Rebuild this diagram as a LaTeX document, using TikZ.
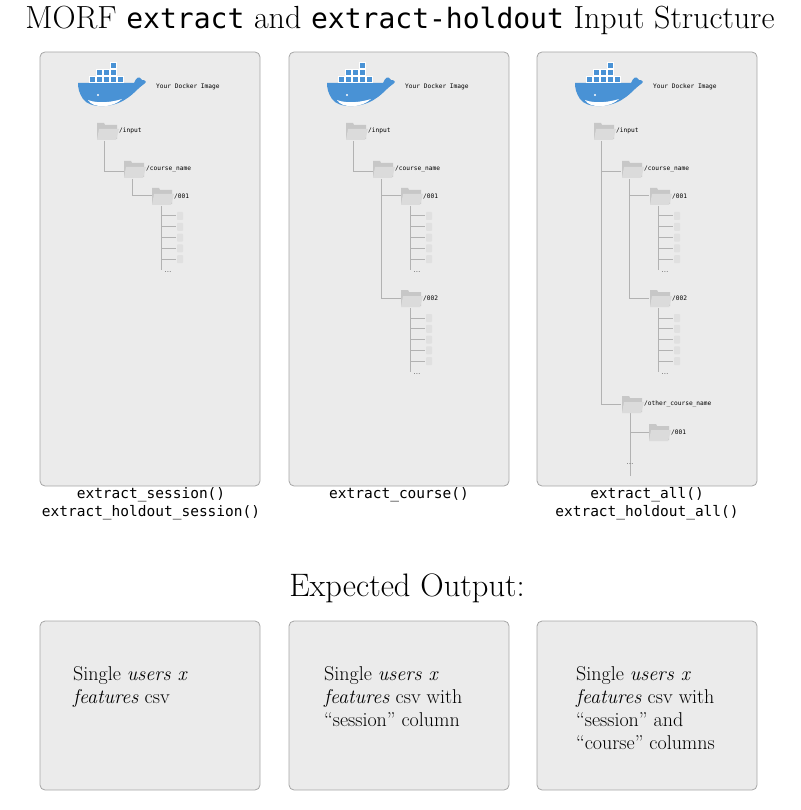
\documentclass[tikz,border=0pt]{standalone}
\usepackage{fontspec}
\setmonofont{DejaVu Sans Mono}
\begin{document}
\begin{tikzpicture}[x=1pt,y=-1pt,
  panel/.style={draw=black!35,fill=black!8,rounded corners=5pt,line width=0.8pt},
  tline/.style={draw=black!30,line width=1pt},
  flab/.style={anchor=west,inner sep=0pt,font=\ttfamily\fontsize{6.2}{7}\selectfont},
  captxt/.style={font=\ttfamily\fontsize{14.5}{16}\selectfont,inner sep=0pt},
  outtxt/.style={font=\fontsize{20}{23}\selectfont,align=left,anchor=north west,inner sep=0pt}]
\useasboundingbox (0,0) rectangle (800,810);
\newcommand\fold[3]{%
  \fill[black!22] (#1,#2+1) -- (#1+7,#2+1) -- (#1+8,#2+3) -- (#1+20,#2+3) -- (#1+20,#2+17) -- (#1,#2+17) -- cycle;
  \fill[black!14] (#1+2,#2+7) -- (#1+22,#2+7) -- (#1+19,#2+18) -- (#1,#2+18) -- cycle;
  \node[flab] at (#1+22,#2+9) {#3};}
\newcommand\files[2]{% x of vertical line, top y
  \foreach \k in {0,...,4}{\draw[tline] (#1,#2+10+\k*10.8) -- (#1+15,#2+10+\k*10.8);
    \fill[black!12,rounded corners=0.8pt] (#1+16,#2+6+\k*10.8) rectangle (#1+22,#2+14+\k*10.8);}
  \draw[tline] (#1,#2) -- (#1,#2+64);
  \node[inner sep=0pt,font=\fontsize{8}{9}\selectfont] at (#1+7,#2+66) {...};}
\newcommand\whale[2]{%
  \begin{scope}[shift={(#1,#2)}]
  \fill[cyan!60!blue!75] (0,17) -- (56,17) .. controls (58,12) and (61,9) .. (64,14)
    .. controls (68,14) and (69,16) .. (66,18) .. controls (60,22) and (56,28) .. (48,33)
    .. controls (35,42) and (12,43) .. (5,33) .. controls (1,27) and (0,22) .. (0,17) -- cycle;
  \fill[white] (10,34) .. controls (20,38) and (35,36) .. (44,33) .. controls (35,42) and (15,43) .. (10,34) -- cycle;
  \fill[white] (20,29) circle (1.2);
  \foreach \i in {0,...,4} \fill[cyan!60!blue!75,draw=white,line width=0.6pt] (11+\i*7,10) rectangle +(6,6);
  \foreach \i in {1,...,3} \fill[cyan!60!blue!75,draw=white,line width=0.6pt] (11+\i*7,3) rectangle +(6,6);
  \fill[cyan!60!blue!75,draw=white,line width=0.6pt] (32,-4) rectangle +(6,6);
  \end{scope}
  \node[flab] at (#1+78,#2+21) {Your Docker Image};}
\node[font=\fontsize{32}{36}\selectfont,inner sep=0pt] (title) at (400,20) {MORF {\fontsize{28}{32}\selectfont\texttt{extract}} and {\fontsize{28}{32}\selectfont\texttt{extract-holdout}} Input Structure};
% panels
\foreach \x/\n in {40/p1,289/p2,537/p3}{
  \draw[panel] (\x,52) rectangle (\x+220,486);
  \draw[panel] (\x,621) rectangle (\x+220,790);
  \whale{\x+38}{66}}
% panel 1
\draw[tline] (104,141) |- (124,172);
\draw[tline] (132,179) |- (152,196);
\fold{97}{122}{/input}\fold{124}{160}{/course\_name}\fold{152}{187}{/001}
\files{161}{206}
% panel 2
\draw[tline] (353,141) |- (373,172);
\draw[tline] (381,179) |- (401,196);
\draw[tline] (381,196) |- (401,298);
\fold{346}{122}{/input}\fold{373}{160}{/course\_name}\fold{401}{187}{/001}\fold{401}{289}{/002}
\files{410}{206}\files{410}{308}
% panel 3
\draw[tline] (601,141) |- (621,172);
\draw[tline] (601,172) |- (621,404);
\draw[tline] (629,179) |- (649,196);
\draw[tline] (629,196) |- (649,298);
\draw[tline] (630,413) -- (630,476);
\draw[tline] (630,432) -- (649,432);
\fold{594}{122}{/input}\fold{622}{160}{/course\_name}\fold{650}{187}{/001}\fold{650}{289}{/002}
\fold{622}{395}{/other\_course\_name}\fold{649}{423}{/001}
\files{658}{206}\files{658}{308}
\node[inner sep=0pt,font=\fontsize{8}{9}\selectfont] at (630,464) {...};
% captions
\node[captxt] (c1) at (151,495) {extract\_session()};
\node[captxt] (c1b) at (151,513) {extract\_holdout\_session()};
\node[captxt] (c2) at (399,495) {extract\_course()};
\node[captxt] (c3) at (647,495) {extract\_all()};
\node[captxt] (c3b) at (647,513) {extract\_holdout\_all()};
\node[font=\fontsize{32.5}{36}\selectfont,inner sep=0pt] (eo) at (407,588) {Expected Output:};
\node[outtxt] (o1) at (73,666) {Single \textit{users x}\\\textit{features} csv};
\node[outtxt] (o2) at (324,666) {Single \textit{users x}\\\textit{features} csv with\\``session'' column};
\node[outtxt] (o3) at (576,666) {Single \textit{users x}\\\textit{features} csv with\\``session'' and\\``course'' columns};
\end{tikzpicture}
\end{document}
